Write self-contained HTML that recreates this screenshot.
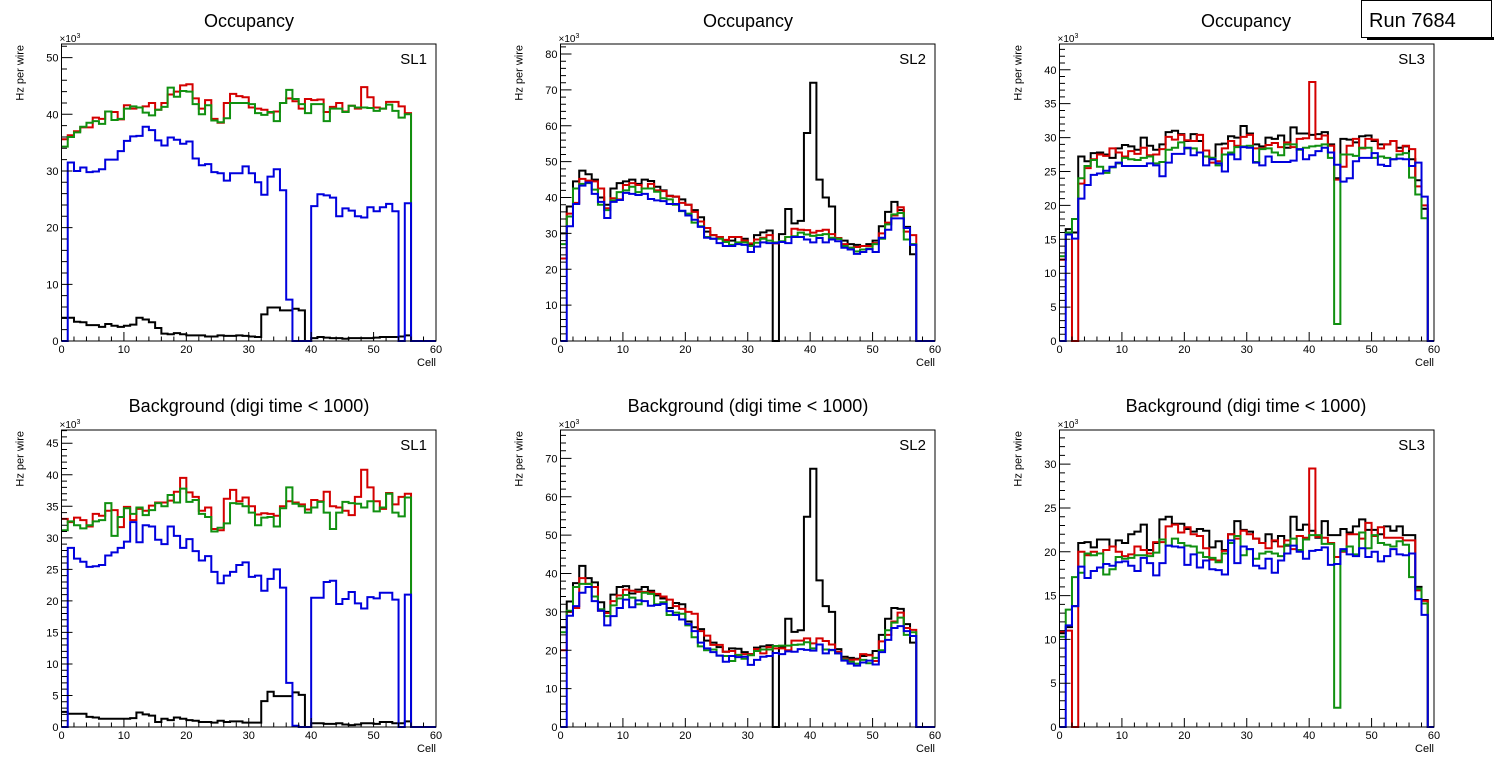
<!DOCTYPE html>
<html><head><meta charset="utf-8">
<style>
html,body{margin:0;padding:0;background:#fff;}
svg{display:block;font-family:"Liberation Sans",sans-serif;}
</style></head>
<body>
<svg id="root" width="1496" height="772" viewBox="0 0 1496 772" xmlns="http://www.w3.org/2000/svg"></svg>
<script>
// ---- data (values in units of 10^3 Hz per wire; index = cell) ----
const occ1Black=[4.1,4.1,3.4,3.3,2.8,2.8,2.5,3.0,2.7,2.5,2.7,2.9,4.1,3.8,3.3,2.3,1.3,1.2,1.4,1.2,1.0,1.0,1.0,0.8,0.8,1.0,0.9,0.9,1.0,0.9,0.8,0.7,4.7,5.9,5.9,5.4,5.4,5.7,5.4,0,0.5,0.7,0.6,0.5,0.5,0.4,0.5,0.5,0.5,0.5,0.6,0.7,0.7,0.7,0.8,1.0];
const occ1Red=[35.6,36.3,37,37.7,37.7,39.4,39.2,40.5,40.4,39.1,41.6,41.0,41.2,41.4,42,40.8,42,43.5,44,45.1,45.3,42.8,41,42.5,39.2,38.5,42,43.6,43.2,43,41.2,41,40.8,40.3,40.5,42,42.8,42.3,41,42.7,42.5,42.6,40.4,41.3,42,40.5,41.5,41,44.8,43,41.2,41,42.2,42.2,41.4,40.2];
const occ1Green=[34.3,36,36.8,37.8,38.5,38.8,38.3,40.5,39,39.2,41,41.4,41.2,40.3,39.8,40.8,41.3,44.7,43.1,44.1,44,41.8,40,41.6,38.9,38.6,39.3,42,42,42,41.8,40.2,39.9,40.4,38.8,42,44.3,42.7,41.8,40.2,41.8,41.8,38.8,41,41,40.4,41.5,41.2,41.2,41.1,40.6,41,41.7,40.6,39.4,40];
const occ1Blue=[0,31.5,30,30.6,29.8,29.9,30.3,32,32,33.5,35.3,36.1,36.2,37.8,37.2,35.4,34.5,35.9,35.5,34.8,35.2,32.2,31,31.2,29.8,29.6,28.3,29.6,29.6,30.8,29.6,28,25.8,29,30.3,26.6,7.3,0,0,0,23.8,25.9,25.7,25.3,22,23.4,23,22,21.8,23.6,22.9,23.6,24.2,22.9,0,24.3];

const occ2Black=[30,37.5,44.5,47.5,46.5,45,40,38,42.5,44,44.5,45,43.8,45,44.6,43,42,40.5,40.2,39.5,38,36.5,34.5,30.5,29.5,29,28,28,29,28.5,27,29.5,30.3,30.8,0,29.8,36.8,32.8,33.5,58,72,45,40,37.5,28.5,28,27,26.8,26.5,27,28,32,36,38.8,36.5,31.8,24.2];
const occ2Red=[23,35.5,38.5,45.2,44.7,44.5,42.5,37,39.8,39.5,43.5,44,43.5,42.5,43.8,42,41.8,40.4,40.3,38.5,38,36,33.3,31.5,29.5,29,28.2,29,29,28,27.2,28.3,28.8,29.5,27.2,27.7,29,31.3,31,30.9,30.2,30.7,31,29.8,28.7,27,26,26.2,26.5,26.5,27.3,30,33,35,37.3,30.5,29.5];
const occ2Green=[27,34.7,42.5,43.8,44,42.2,38,36.5,39.2,41.5,42,43,41.5,42.5,42.5,41.6,39.8,39.5,38,36.2,35.5,33,32,29,28.5,28.5,27.6,26.8,27.5,27.5,26.5,27.4,28.5,28,27.5,27.8,29,29.2,30.2,29.7,29.3,29.5,29.8,28.8,28.5,26.5,26,25,25.5,25.8,27,28.5,32.5,35.3,35.7,28.3,27];
const occ2Blue=[0,32,38.2,43.3,44.2,41,38.8,34.3,38.8,39.3,41.3,41,40.7,41,39.6,39.2,39,38.2,38.2,36.3,35,33.8,31.8,28.8,28.5,27.3,26.5,26.5,27,26.8,24.8,26.3,27.5,27.3,27.3,27.6,27.3,29,29,28.3,27.5,28.7,27.5,28.3,27.8,26,25.5,24.3,24.8,25.6,24.8,28.8,31,34.2,34.2,31.5,26.8];

const occ3Black=[12,16.5,16,27.2,26.5,27.7,27.8,27.5,27,28.4,28.9,28.7,28.2,30,28.8,28.2,29,30.8,31,30.5,29.5,30.5,29.5,27.2,27,29,29.1,30.2,30,31.7,30.6,29,28.7,30,29.8,30.3,28.5,31.5,30.6,30.6,30.4,30.5,30.8,29,24,29.8,29.7,29.3,30.2,30.3,29.5,29,29,29.5,28.5,28.7,26.8,23.7,19.5];
const occ3Red=[12,15.7,0,23.2,25.5,26.8,27.5,27.3,28.4,27.8,27.2,28,27.6,28.5,27.4,27.5,28.3,30.1,29.7,30.4,29.6,29.5,30.4,28.1,26.3,26.5,28.4,29.5,28.8,30.1,30.4,28.4,28.4,28.9,29.2,28.6,29.3,28.6,29.8,29.9,38.2,29.8,30.3,28.8,23.8,25.7,28.8,29.8,28.4,29.8,29.7,28.4,29,29.5,28,28.8,28.3,22.8,20];
const occ3Green=[12.5,16,18,24,25.8,26.7,25.7,24.8,25.6,26.2,27,26.8,26.7,27,27.2,26.2,26.4,28.2,28.5,29.3,28.4,28.4,27.8,27.2,27,25.9,27.5,27.8,28.6,28.7,28.8,26.4,28.3,28.4,27.8,27.4,29,29,28.2,28.5,28.7,28.8,29,27,2.5,27.5,27.5,27.3,28.5,28.5,27,27.2,27,26.8,27.5,27.7,24.1,21.6,18.1];
const occ3Blue=[0,15.7,15.1,21,23,24.5,24.7,25.1,25.7,26.3,25.8,25.8,25.8,25.8,26.2,25.9,24.3,26.3,27.6,27.6,28.5,27.4,27.8,25.9,26.8,26.2,25,27.5,26.8,28.6,28.5,26.3,25.9,27.2,26.4,26.4,26.4,26.6,28.3,26.8,27.4,28,28.5,27.8,26,23.5,24,26.5,27,27,27.7,26,25.8,26.8,26.9,26.8,25.8,26.3,21.3,18.1].slice(0,59);

const bg1Black=[2.4,2.1,2.1,2.1,1.6,1.5,1.3,1.3,1.3,1.3,1.3,1.4,2.3,2,1.8,0.8,1.3,1.1,1.5,1.3,1.1,1,0.8,0.8,0.7,1,0.8,0.9,0.9,0.7,0.7,0.7,4.1,5.6,4.9,4.9,4.9,5.5,5.1,0,0.6,0.6,0.5,0.5,0.6,0.4,0.3,0.4,0.6,0.6,0.5,0.8,0.8,0.6,0.6,0.9];
const bg1Red=[33,32.5,33.2,32.8,31.8,33.8,33.5,34.3,34.4,31.7,34.9,32.8,34.6,34.3,35.1,35.6,35.6,35.9,37.3,39.5,37.2,36.5,34.3,34.8,31.4,31.2,36.2,37.6,35.8,36.4,35,33.7,33.9,33.8,33.5,35,35.8,35.6,35.3,34.5,36,35.8,37.3,35,34.8,34.3,33.6,36.5,40.8,38,35.8,34.6,37.1,35.3,36.5,37];
const bg1Green=[31.2,32.6,32,31.5,32,32.6,32.8,35.5,30.3,33.3,34.7,33.8,34.8,33.6,34.4,35.5,35,36.8,35.6,37.8,35.7,36,33.8,33.3,31,31.6,32.3,35.5,35.4,35,34,32,33.2,33.3,31.8,34.7,38,35.4,35,34,34.8,35.7,34,31.4,34,35.7,35.5,35.4,34.8,35.8,34.2,34.8,37,34,33.4,36.4];
const bg1Blue=[0,28.4,26.7,26.2,25.4,25.5,25.7,27.2,27.7,28.4,29.4,32.5,29.3,32,31.8,29.7,29,31.8,30.3,28.4,29.8,27.9,26.4,27.1,24.6,22.8,24,24.6,25.7,26.1,23.8,24,21.6,23.5,25,22.1,7,0.2,0,0,20.5,20.5,23,23.2,19.5,20.3,21.4,19.6,18.8,20.6,20.4,21.3,21.3,20.2,0,21];

const bg2Black=[26,32.7,37.5,42,38.8,37.7,32.5,30,34.5,36.5,36.7,34.8,35.8,36.5,35.5,34.3,33.5,31,32.3,32,27.5,26,25.5,22.5,22,20.8,19.6,20.5,20.4,19.5,19,20.7,21,21.3,0,20.8,28.2,24.8,25.2,54.8,67.3,38.2,31.5,30,20.3,18.3,18,17.8,18.5,18.8,19.8,24,28.2,31,30.8,26.8,22];
const bg2Red=[20,30,31,38.8,37.3,36.5,30.3,29.7,32.8,34.3,35.8,35.5,35.2,35.2,35.1,34.7,34,33.2,31.5,30.8,30,29.5,25,23.8,21.4,21.4,19.6,19.8,18.7,19,19,20.3,19.2,20.8,20.5,20.5,20,22.5,22.5,23.1,21.8,23.1,22.4,21.5,19.6,17.8,17.5,17.6,19,18.7,17.2,22.3,24,27.5,29.8,25.8,25.3];
const bg2Green=[24.7,30.3,36.5,37.3,37.3,34,30.7,28.9,31.7,33.5,34.4,33.7,32,35,34.7,32,32.5,29.2,29.8,29.5,26.5,23.4,21,20,20.2,18.6,18.5,17.2,18.8,17.8,18.7,19.8,20.2,20.2,21.1,21.2,21.2,21.4,21.5,22.1,20.5,21.5,20.2,20,19.2,17.6,17,16.5,17.5,16.6,18,20,25.2,27.2,28.5,24,24.7];
const bg2Blue=[0,29,31.5,35,36.5,32.8,30.3,26.5,28.9,31,33.2,31.2,33,32.8,31.6,31.8,32.1,30.2,29.2,28,26.8,25,22,20.5,19.5,18.6,17,18.5,18.2,18.3,16.2,17.5,18.3,18.5,19.3,19,19.7,19.6,20.3,20.1,19.9,21.5,19.2,20.1,19.2,17.3,16.5,16,16.8,17.3,16.3,19.5,22.7,25.8,26.3,25,23.7];

const bg3Black=[10.7,11.4,13.8,21,21.1,20.5,21.4,21.4,20.6,21.3,21,22,22.3,23.1,20.2,21,23.7,24,23.2,23.2,22.6,22.3,22.6,22.4,20.5,21.2,20.2,22,23.5,22.5,22.3,21.5,21,22,21.2,21.8,20.7,24,22.5,23.1,22.4,21.6,23.5,21.9,21.9,22.6,22.2,22.9,23.7,22.5,22.5,22,22.9,22.4,22.9,21.9,21.9,16,14.5];
const bg3Red=[10.9,11,0,20,19.6,20,19.8,20.2,20.6,20,19.5,19.7,20.6,20.2,19.8,21.1,21.1,22.9,23.1,22.2,22.8,22,21.8,20.4,19.1,19,20.1,22,21.5,22.4,22,21.5,21,20.4,21.3,20.6,21.3,20.3,21.8,21.6,29.5,21.7,21.6,21,19.4,20,22,22,21.5,23.3,21.8,22.8,21.6,21.6,21.6,21.3,21.3,15.6,14.4];
const bg3Green=[10.3,13.4,17.1,17.6,19.8,19.6,19.8,17.4,18,19.4,19.2,19.3,19.6,19.6,19.5,19.9,21.4,20.7,21.5,21,20.7,20.6,19.9,19.4,19.3,18.8,19.8,21,21.8,19.6,20.3,19.2,19.8,20,19.8,19.5,20.8,21.5,20.2,21.4,21.9,21.9,20.9,20.9,2.2,20.1,20.6,19.7,22.2,20.4,21.9,21,20.8,20.6,21.2,20.8,17.1,15.8,14.1];
const bg3Blue=[0,11.6,13.8,18.3,17,17.8,18.2,18.6,18.4,18.8,18.9,18.4,17.8,19.3,18.7,17.3,18.7,20.7,20.6,20.5,18.5,19.7,18.2,19,18,17.9,17.4,21.3,18.7,20.6,20.3,18.4,18.1,19.2,17.6,19,19.8,20.7,20,19.2,20.1,20.2,20.5,18.5,18.6,20.3,19.7,19.5,20.4,19.4,20,18.9,19.5,20.3,19.7,19.6,19.8,14.6,12.8];

const xTicks=[0,10,20,30,40,50,60];
const panelTitles=["Occupancy","Occupancy","Occupancy","Background (digi time < 1000)","Background (digi time < 1000)","Background (digi time < 1000)"];
const slLabels=["SL1","SL2","SL3","SL1","SL2","SL3"];
const yMaxes=[52.4,82.8,43.8,47.1,77.4,33.9];
const yMajor=[10,10,5,5,10,5];

const NS="http://www.w3.org/2000/svg";
const root=document.getElementById('root');
function mk(tag,attrs,parent){const e=document.createElementNS(NS,tag);for(const k in attrs)e.setAttribute(k,attrs[k]);(parent||root).appendChild(e);return e;}

const series=[
 [occ1Black,occ1Red,occ1Green,occ1Blue],[occ2Black,occ2Red,occ2Green,occ2Blue],[occ3Black,occ3Red,occ3Green,occ3Blue],
 [bg1Black,bg1Red,bg1Green,bg1Blue],[bg2Black,bg2Red,bg2Green,bg2Blue],[bg3Black,bg3Red,bg3Green,bg3Blue]];
const colors=["#000000","#d40000","#109010","#0000dd"];
const cnames=["black","red","green","blue"];
const lefts=[61.5,560.5,1059.5], tops=[44,430], bottoms=[341,727], W=374.5, pads=[249,748,1246];

for(let p=0;p<6;p++){
 const col=p%3,row=Math.floor(p/3);
 const L=lefts[col],T=tops[row],B=bottoms[row],R=L+W;
 const g=mk('g',{});
 
 
 const xs=v=>L+v/60*W;
 const ys=v=>B-v/yMaxes[p]*(B-T);
 const t=mk('text',{x:pads[col],y:row?412:27,'text-anchor':'middle','font-size':'18'},g);
 t.textContent=panelTitles[p];
 
 
 series[p].forEach((arr,si)=>{
  let d='M'+xs(0)+','+ys(arr[0]);
  for(let i=0;i<60;i++){
   const v=i<arr.length?arr[i]:0;
   d+=' L'+xs(i)+','+ys(v)+' L'+xs(i+1)+','+ys(v);
  }
  const path=mk('path',{d:d,fill:'none',stroke:colors[si],'stroke-width':'2','stroke-linejoin':'miter'},g);
  
  
 });
 const fr=mk('rect',{x:L,y:T,width:W,height:B-T,fill:'none',stroke:'#000','stroke-width':'1'},g);
 
 
 let td='';
 for(let v=0;v<=60;v+=2){const len=(v%10===0)?9:4.5;td+='M'+xs(v)+','+B+' v'+(-len)+' ';}
 const mj=yMajor[p],mn=mj/5;
 for(let k=0;k*mn<=yMaxes[p];k++){const v=k*mn;const len=(k%5===0)?11:5.5;td+='M'+L+','+ys(v)+' h'+len+' ';}
 const tk=mk('path',{d:td,stroke:'#000','stroke-width':'1',fill:'none'},g);
 
 
 xTicks.forEach(v=>{
  const lb=mk('text',{x:xs(v),y:B+12,'text-anchor':'middle','font-size':'11'},g);
  lb.textContent=String(v);
  
  
 });
 for(let v=0;v<=yMaxes[p];v+=mj){
  const lb=mk('text',{x:L-3,y:ys(v)+4,'text-anchor':'end','font-size':'11'},g);
  lb.textContent=String(v);
  
  
 }
 const ex=mk('text',{x:L-2,y:T-2,'font-size':'10'},g);
 ex.textContent='×10';
 
 
 const ex2=mk('tspan',{dy:'-4','font-size':'7'},ex);ex2.textContent='3';
 const cl=mk('text',{x:R,y:B+25,'text-anchor':'end','font-size':'11'},g);
 cl.textContent='Cell';
 
 
 const yt=mk('text',{transform:'translate('+(L-38)+','+(T+1)+') rotate(-90)','text-anchor':'end','font-size':'11'},g);
 yt.textContent='Hz per wire';
 
 
 const sl=mk('text',{x:R-9,y:T+20,'text-anchor':'end','font-size':'15'},g);
 sl.textContent=slLabels[p];
 
 
}
const rb=mk('g',{});


mk('rect',{x:1367,y:37,width:127,height:3,fill:'#000'},rb);
mk('rect',{x:1361.5,y:0.5,width:130,height:37,fill:'#fff',stroke:'#000','stroke-width':'1'},rb);
const rt=mk('text',{x:1369,y:27,'font-size':'20'},rb);
rt.textContent='Run 7684';
</script>
</body></html>
